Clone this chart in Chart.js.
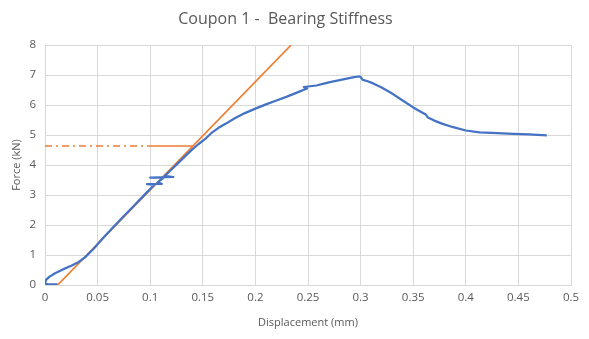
<!DOCTYPE html>
<html>
<head>
<meta charset="utf-8">
<script src="https://cdn.jsdelivr.net/npm/chart.js@4"></script>
<style>
  html, body { margin: 0; padding: 0; background: #fff; }
  #wrap { width: 589px; height: 339px; }
</style>
</head>
<body>
<div id="wrap"><canvas id="stiffChart"></canvas></div>
<script>
// load-displacement record, coupon 1
const dispMm = [0.012, 0.003, 0.000, 0.001, 0.004, 0.010, 0.017, 0.025, 0.032, 0.038,
  0.046, 0.055, 0.065, 0.075, 0.085, 0.095, 0.104, 0.097, 0.111, 0.107,
  0.113, 0.100, 0.122, 0.114, 0.120, 0.127, 0.134, 0.140, 0.146, 0.152,
  0.158, 0.165, 0.172, 0.180, 0.190, 0.200, 0.210, 0.220, 0.230, 0.240,
  0.249, 0.246, 0.258, 0.265, 0.272, 0.280, 0.288, 0.294, 0.298, 0.300,
  0.302, 0.306, 0.312, 0.320, 0.330, 0.340, 0.350, 0.358, 0.362, 0.364,
  0.370, 0.378, 0.388, 0.400, 0.413, 0.430, 0.445, 0.460, 0.477];
const forceKn = [0.02, 0.02, 0.05, 0.17, 0.27, 0.40, 0.52, 0.64, 0.77, 0.92,
  1.20, 1.56, 1.93, 2.30, 2.66, 3.02, 3.34, 3.36, 3.37, 3.42,
  3.58, 3.58, 3.60, 3.64, 3.84, 4.08, 4.32, 4.52, 4.70, 4.86,
  5.06, 5.24, 5.38, 5.55, 5.73, 5.88, 6.02, 6.15, 6.28, 6.42,
  6.55, 6.60, 6.65, 6.71, 6.77, 6.83, 6.89, 6.93, 6.95, 6.94,
  6.84, 6.80, 6.72, 6.58, 6.38, 6.15, 5.92, 5.76, 5.68, 5.58,
  5.48, 5.37, 5.26, 5.15, 5.09, 5.06, 5.04, 5.02, 4.99];

// stiffness fit line and the offset marker at the fit intersection
const fitX = [0.012, 0.234];
const fitY = [0, 8];
const markDashX = [0, 0.1];
const markSolidX = [0.1, 0.1406];
const markY = [4.63, 4.63];

const xTicks = ['0', '0.05', '0.1', '0.15', '0.2', '0.25', '0.3', '0.35', '0.4', '0.45', '0.5'];

const toPts = (xs, ys) => xs.map((x, i) => ({ x: x, y: ys[i] }));

const grey = '#595959';
const gridCol = '#d9d9d9';

const ctx = document.getElementById('stiffChart').getContext('2d');

new Chart(ctx, {
    type: 'scatter',
    data: {
        datasets: [
            {
                data: toPts(markDashX, markY),
                borderColor: '#ED7D31',
                borderWidth: 1.5,
                borderDash: [7, 4, 2, 4],
                showLine: true,
                pointRadius: 0
            },
            {
                data: toPts(markSolidX, markY),
                borderColor: '#ED7D31',
                borderWidth: 1.5,
                showLine: true,
                pointRadius: 0
            },
            {
                data: toPts(dispMm, forceKn),
                borderColor: '#4472C4',
                borderWidth: 2.25,
                borderJoinStyle: 'round',
                showLine: true,
                pointRadius: 0,
                tension: 0
            },
            {
                data: toPts(fitX, fitY),
                borderColor: '#ED7D31',
                borderWidth: 1.75,
                showLine: true,
                pointRadius: 0
            }
        ]
    },
    options: {
        responsive: true,
        maintainAspectRatio: false,
        animation: false,
        layout: { padding: { left: 0, right: 18, top: 0, bottom: 0 } },
        plugins: {
            legend: { display: false },
            tooltip: { enabled: false },
            title: {
                display: true,
                text: 'Coupon 1 -  Bearing Stiffness',
                color: grey,
                font: { family: 'Open Sans', size: 16, weight: 'normal', lineHeight: 1.2 },
                padding: { top: 10, bottom: 15.8 }
            }
        },
        scales: {
            x: {
                type: 'linear',
                min: 0,
                max: 0.5,
                afterFit: (s) => { s.height = 54; },
                ticks: {
                    stepSize: 0.05,
                    color: grey,
                    padding: 6,
                    maxRotation: 0,
                    font: { family: 'Open Sans', size: 11.5 },
                    callback: (v, i) => xTicks[i]
                },
                grid: { color: gridCol, drawTicks: false },
                border: { color: gridCol },
                title: {
                    display: true,
                    text: 'Displacement (mm)',
                    color: grey,
                    font: { family: 'Open Sans', size: 11 },
                    padding: { top: 0, bottom: 10 }
                }
            },
            y: {
                min: 0,
                max: 8,
                afterFit: (s) => { s.width = 45; },
                ticks: {
                    stepSize: 1,
                    color: grey,
                    padding: 9,
                    font: { family: 'Open Sans', size: 11.5 }
                },
                grid: { color: gridCol, drawTicks: false },
                border: { color: gridCol },
                title: {
                    display: true,
                    text: 'Force (kN)',
                    color: grey,
                    font: { family: 'Open Sans', size: 11 },
                    padding: { top: 10, bottom: 0 }
                }
            }
        }
    }
});
</script>
</body>
</html>
